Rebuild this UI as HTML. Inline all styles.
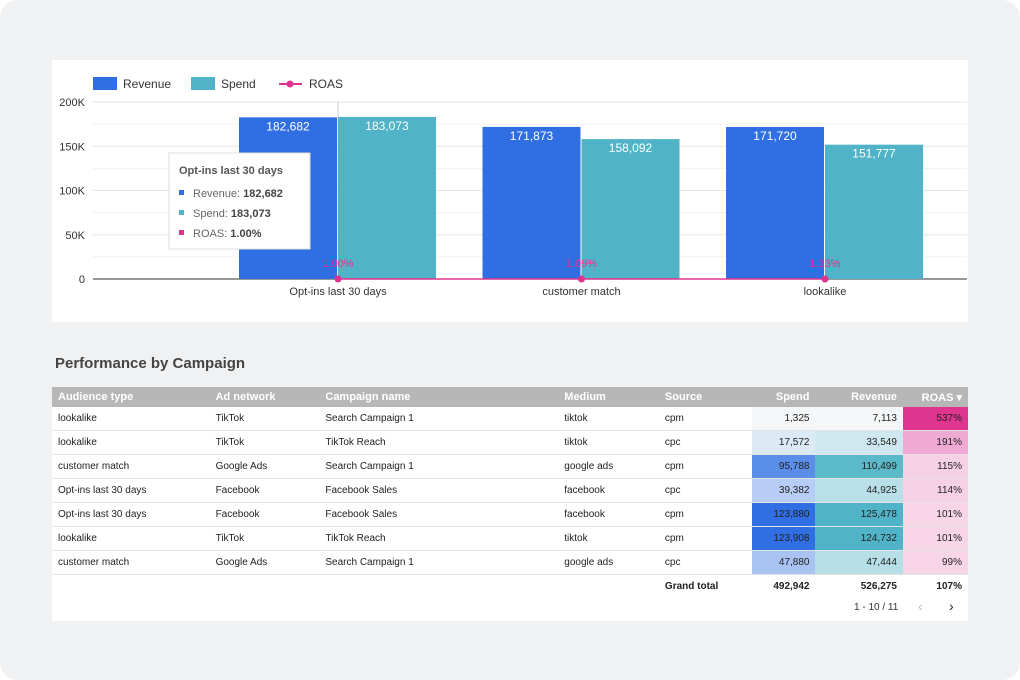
<!DOCTYPE html>
<html><head><meta charset="utf-8"><style>
body{margin:0;width:1020px;height:680px;background:#fff;font-family:"Liberation Sans",sans-serif;overflow:hidden}
.frame{position:absolute;left:0;top:0;width:1020px;height:680px;background:#f0f1f3;border-radius:18px}
.card{position:absolute;background:#fff}
table{border-collapse:collapse;font-size:10px;color:#222}
td,th{height:23px;padding:0 6px;border-bottom:1px solid #e4e4e4;white-space:nowrap}
th{background:#b7b7b7;color:#fff;font-weight:bold;font-size:11px;height:20px;text-align:left;border:none}
.r{text-align:right}
</style></head><body>
<div class="frame"></div>
<div class="card" style="left:52px;top:60px;width:916px;height:262px">
<svg id="chart" width="916" height="262" style="position:absolute;left:0;top:0"></svg>
</div>
<div style="position:absolute;left:55px;top:355px;font-size:15px;font-weight:bold;color:#444">Performance by Campaign</div>
<div class="card" style="left:52px;top:387px;width:916px;height:234px">
<table style="width:916px">
<thead><tr>
<th style="width:143px">Audience type</th>
<th style="width:96px">Ad network</th>
<th style="width:223px">Campaign name</th>
<th style="width:87px">Medium</th>
<th style="width:80px">Source</th>
<th class="r" style="width:50px">Spend</th>
<th class="r" style="width:74px">Revenue</th>
<th class="r" style="width:52px">ROAS ▾</th>
</tr></thead>
<tbody id="tb"></tbody>
</table>
<div style="position:absolute;left:802px;top:215px;font-size:10px;color:#333">1 - 10 / 11</div>
<div style="position:absolute;left:866px;top:211px;font-size:14px;color:#bbb">‹</div>
<div style="position:absolute;left:897px;top:211px;font-size:14px;color:#222">›</div>
</div>
<script>
const categories=["Opt-ins last 30 days","customer match","lookalike"];
const revenue=[182682,171873,171720];
const spend=[183073,158092,151777];
const roas=[1.00,1.09,1.13];
const yTicks=[0,50000,100000,150000,200000];
const yTickLabels=["0","50K","100K","150K","200K"];
const NS="http://www.w3.org/2000/svg";
const svg=document.getElementById('chart');
const ox=52,oy=60;
const x0=93-ox,x1=967-ox,y0=279-oy,yTop=102-oy;
const y=v=>y0-(v/200000)*(y0-yTop);
const cx=i=>338-ox+i*243.5;
function el(t,a,txt){const e=document.createElementNS(NS,t);for(const k in a)e.setAttribute(k,a[k]);if(txt!==undefined)e.textContent=txt;svg.appendChild(e);return e;}
yTicks.forEach((t,i)=>{
 const g=el('line',{x1:x0,x2:x1,y1:y(t),y2:y(t),stroke:i?'#e6e6e6':'#333','stroke-width':1});
 
 if(i<4){const h=el('line',{x1:x0,x2:x1,y1:y(t+25000),y2:y(t+25000),stroke:'#f0f0f0'});}
 const l=el('text',{x:x0-8,y:y(t)+4,'text-anchor':'end','font-size':11,fill:'#333'},yTickLabels[i]);
 
});
el('line',{x1:cx(0),x2:cx(0),y1:yTop,y2:y0,stroke:'#ccc'});
categories.forEach((c,i)=>{
 const bw=98;
 const r=el('rect',{x:cx(i)-bw-1,y:y(revenue[i]),width:bw,height:y0-y(revenue[i]),fill:'#2f6fe3'});
 
 const s=el('rect',{x:cx(i),y:y(spend[i]),width:bw,height:y0-y(spend[i]),fill:'#50b3c7'});
 
 const t1=el('text',{x:cx(i)-bw/2-1,y:y(revenue[i])+13,'text-anchor':'middle','font-size':12,fill:'#fff'},revenue[i].toLocaleString('en-US'));
 
 const t2=el('text',{x:cx(i)+bw/2,y:y(spend[i])+13,'text-anchor':'middle','font-size':12,fill:'#fff'},spend[i].toLocaleString('en-US'));
 
 const xl=el('text',{x:cx(i),y:y0+16,'text-anchor':'middle','font-size':11,fill:'#333'},c);
 
});
const pts=categories.map((c,i)=>[cx(i),y(roas[i])]);
const pl=el('polyline',{points:pts.map(p=>p.join(',')).join(' '),fill:'none',stroke:'#e0338f','stroke-width':1.5});

pts.forEach((p,i)=>{
 const d=el('circle',{cx:p[0],cy:p[1],r:3.5,fill:'#e0338f'});
 
 const t=el('text',{x:p[0],y:p[1]-12,'text-anchor':'middle','font-size':11,fill:'#e0338f'},roas[i].toFixed(2)+'%');
 
});
[['Revenue','#2f6fe3',43],['Spend','#50b3c7',141]].forEach(([n,c,x])=>{
 const r=el('rect',{x:x-2,y:17,width:24,height:13,fill:c});
 const t=el('text',{x:x+28,y:28,'font-size':12,fill:'#333'},n);
});
el('line',{x1:227,x2:250,y1:24,y2:24,stroke:'#e0338f','stroke-width':2});
el('circle',{cx:238,cy:24,r:3.5,fill:'#e0338f'});
const lt=el('text',{x:257,y:28,'font-size':12,fill:'#333'},'ROAS');
const tt=el('rect',{x:117,y:93,width:141,height:96,fill:'#fff',stroke:'#ddd'});

el('text',{x:127,y:114,'font-size':11,'font-weight':'bold',fill:'#555'},categories[0]);
[['Revenue',revenue[0].toLocaleString('en-US'),'#2f6fe3'],['Spend',spend[0].toLocaleString('en-US'),'#50b3c7'],['ROAS',roas[0].toFixed(2)+'%','#e0338f']].forEach(([n,v,c],i)=>{
 el('rect',{x:127,y:130+i*20,width:5,height:5,fill:c});
 const t=el('text',{x:141,y:137+i*20,'font-size':11,fill:'#666'},n+': ');
 const b=document.createElementNS(NS,'tspan');b.setAttribute('font-weight','bold');b.setAttribute('fill','#444');b.textContent=v;t.appendChild(b);
});
const rows=[["lookalike","TikTok","Search Campaign 1","tiktok","cpm","1,325","7,113","537%","#f4f6f8","#f4f6f8","#de3590"],
["lookalike","TikTok","TikTok Reach","tiktok","cpc","17,572","33,549","191%","#dbeaf4","#cfe8f0","#eeaad2"],
["customer match","Google Ads","Search Campaign 1","google ads","cpm","95,788","110,499","115%","#5a8ee9","#5cb9c9","#f6d0e5"],
["Opt-ins last 30 days","Facebook","Facebook Sales","facebook","cpc","39,382","44,925","114%","#b7cdf5","#b9e0e8","#f6d0e5"],
["Opt-ins last 30 days","Facebook","Facebook Sales","facebook","cpm","123,880","125,478","101%","#2f6fe3","#50b3c7","#f8d5e7"],
["lookalike","TikTok","TikTok Reach","tiktok","cpm","123,908","124,732","101%","#2f6fe3","#50b3c7","#f8d5e7"],
["customer match","Google Ads","Search Campaign 1","google ads","cpc","47,880","47,444","99%","#a8c3f2","#b7dfe7","#f8d5e7"]];
const tb=document.getElementById('tb');
rows.forEach(r=>{
 const tr=document.createElement('tr');
 
 
 tr.innerHTML=r.slice(0,5).map(v=>`<td>${v}</td>`).join('')+
 `<td class="r" style="background:${r[8]}">${r[5]}</td><td class="r" style="background:${r[9]}">${r[6]}</td><td class="r" style="background:${r[10]}">${r[7]}</td>`;
 tb.appendChild(tr);
});
const tr=document.createElement('tr');


tr.innerHTML='<td style="border:none"></td><td style="border:none"></td><td style="border:none"></td><td style="border:none"></td><td style="border:none;font-weight:bold">Grand total</td><td class="r" style="border:none;font-weight:bold">492,942</td><td class="r" style="border:none;font-weight:bold">526,275</td><td class="r" style="border:none;font-weight:bold">107%</td>';
tb.appendChild(tr);
</script>
</body></html>
